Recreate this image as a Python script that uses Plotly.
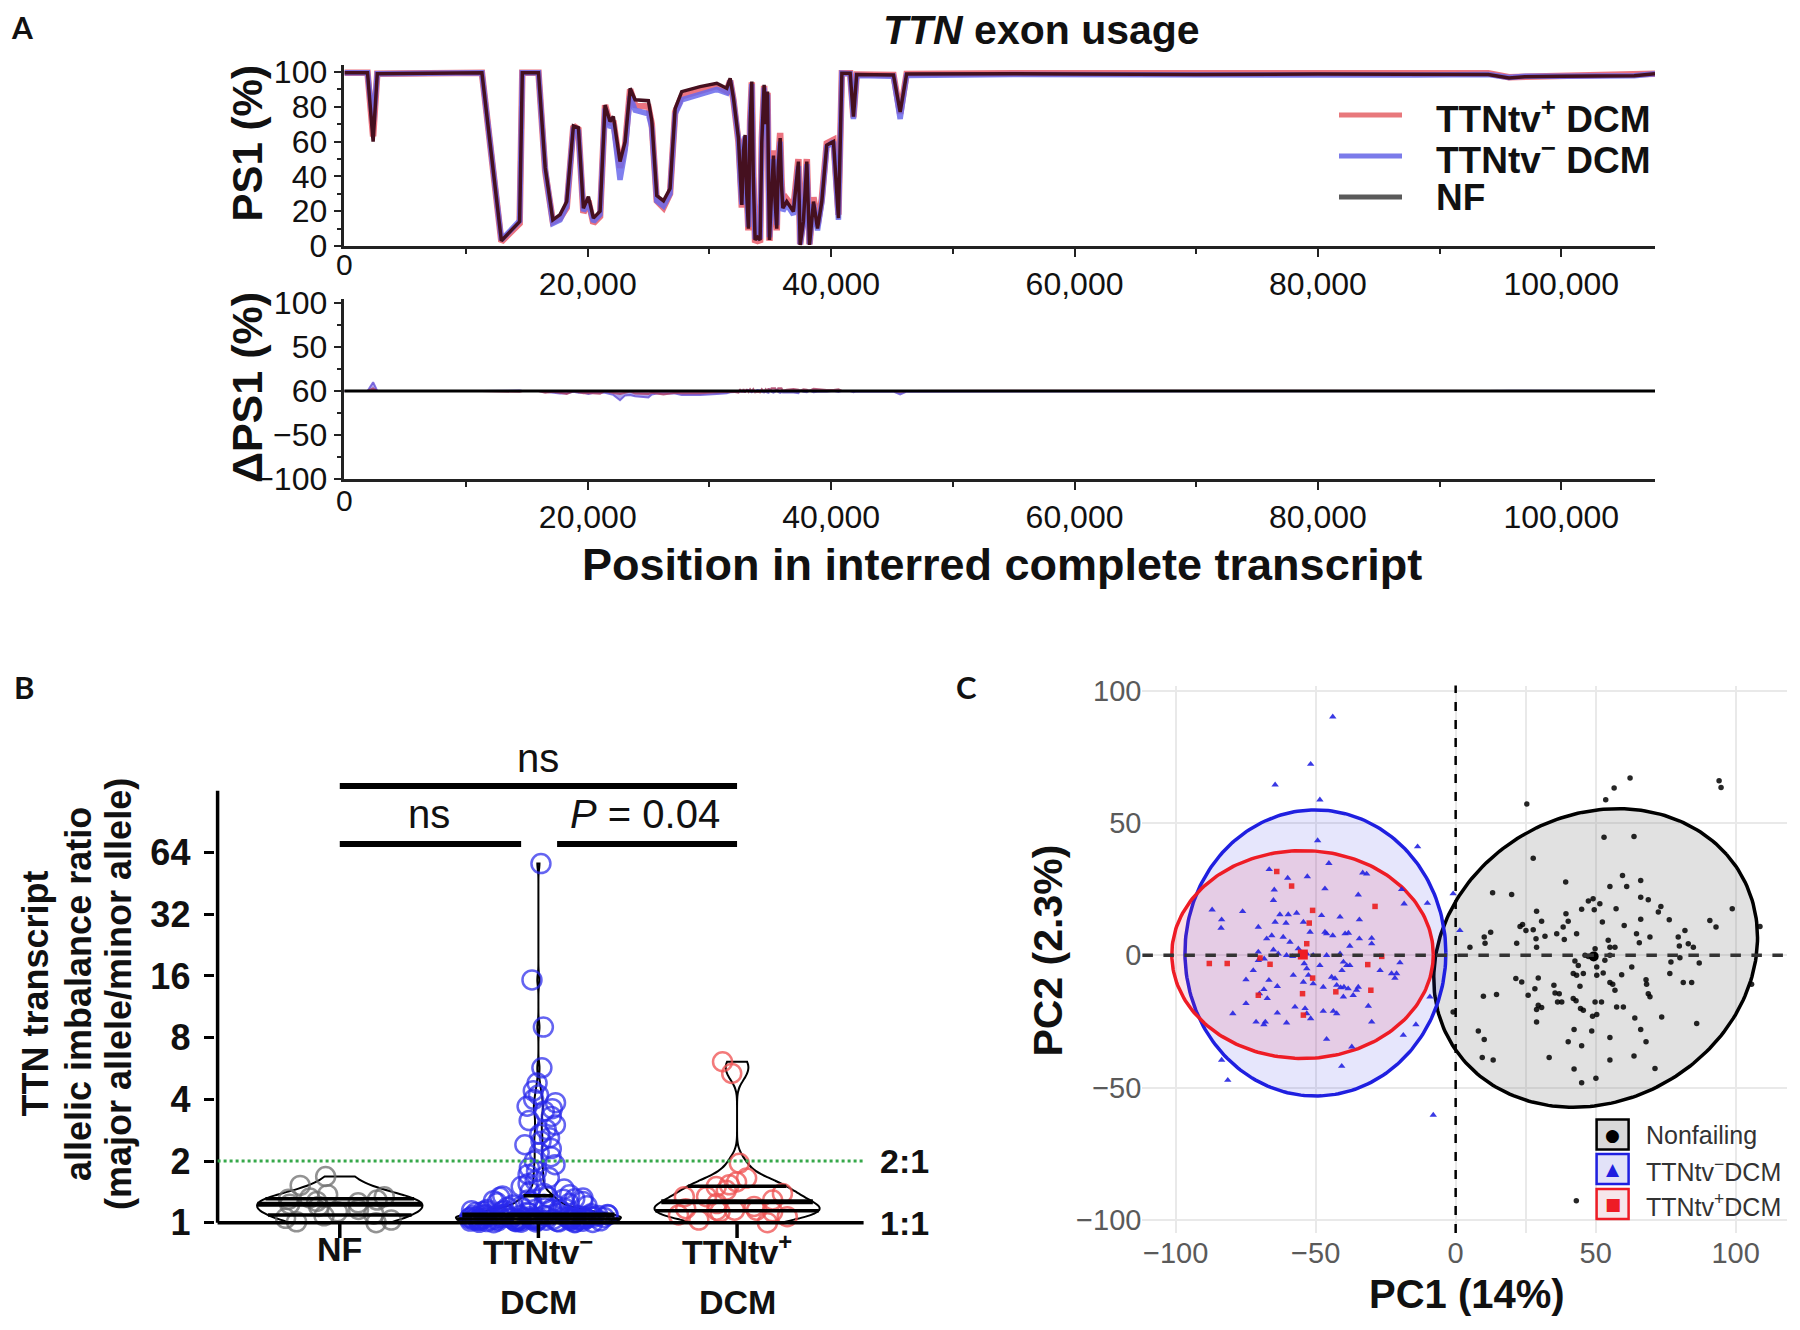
import numpy as np
import plotly.graph_objects as go

# The page body keeps an 8 px margin, so the figure is 16 px smaller than the window
# and every position below is given in window pixels, then shifted by that margin.
OFF = 8
W, H = 1800 - 2 * OFF, 1330 - 2 * OFF
FONT = "Liberation Sans, Arial, Helvetica, sans-serif"


def fx(p):
    return (p - OFF) / W


def fy(p):
    return 1 - (p - OFF) / H


# ---------------- Panel A : PS1 along the transcript ----------------
ps1_position = [0, 1900, 2360, 2700, 11300, 12900, 14400, 14620, 15950, 16500,
                17130, 17720, 18270, 18820, 19230, 19640, 20050, 20460, 21010, 21420,
                21830, 22100, 22650, 23070, 23480, 23890, 24980, 25260, 25670, 26220,
                26760, 27180, 27720, 29230, 30600, 31420, 31700, 31970, 32380, 32520,
                32660, 32800, 32930, 33060, 33200, 33340, 33480, 33600, 33750, 33950,
                34160, 34300, 34490, 34620, 34770, 34850, 34930, 35100, 35260, 35400,
                35530, 35650, 35810, 35920, 36030, 36350, 36900, 37310, 37450, 37720,
                38000, 38220, 38550, 38880, 39230, 39640, 40190, 40600, 40880, 41560,
                41830, 42100, 45120, 45670, 46200, 55000, 62000, 70000, 80000, 88000,
                92000, 94000, 95700, 97000, 100000, 106000, 107700]
ps1_nf = [99.5, 99.5, 60, 99, 99.5, 3, 14, 99.5, 99.5, 45,
          15, 18, 25.5, 69, 68, 21.7, 28.4, 16, 20, 81,
          71.5, 74.4, 48.5, 60, 90.6, 84, 83.5, 72, 29, 26,
          33, 79, 88.7, 91.6, 93.5, 90.6, 96.4, 85, 62, 40,
          23.6, 55, 63.8, 30, 10, 70, 94.5, 40, 3.5, 5,
          3.5, 60, 92.6, 70, 88.7, 40, 3.5, 30, 52, 25,
          10, 45, 62, 35, 21.7, 25.5, 19.8, 48.5, 0.6, 14,
          48.5, 0.6, 25.5, 10, 25.5, 58, 60, 16, 99.3, 99.3,
          74.4, 98.5, 98.3, 77, 98.8, 99, 98.8, 98.6, 98.8, 98.8,
          98.5, 98.5, 96.5, 97.2, 97.5, 97.8, 99]
ps1_ttntv_pos = [99.5, 99.5, 63, 99, 99.5, 2.5, 13, 99.5, 99.5, 43,
                 14, 16, 22, 69, 67, 19, 26, 13, 17, 81,
                 70, 72, 45, 58, 90, 81, 80, 70, 26, 22,
                 30, 77, 86, 89, 92, 89, 95, 84, 60, 42,
                 22, 57, 62, 32, 9, 72, 94, 42, 2, 4,
                 2, 62, 92, 72, 88, 43, 3, 33, 55, 28,
                 9, 48, 65, 38, 22, 27, 22, 50, 1, 16,
                 50, 1, 28, 12, 27, 59, 61, 18, 99.3, 99.3,
                 74, 98.5, 98.3, 76, 98.8, 99.2, 99, 99.3, 99.3, 99.3,
                 99, 99.2, 97, 97.2, 97.6, 98, 99]
ps1_ttntv_neg = [99.5, 99.5, 70, 99, 99.5, 3.5, 14.5, 99.5, 99.5, 44,
                 13, 15, 23, 68, 66, 20, 25, 14, 18, 79,
                 68, 70, 38, 55, 86, 78, 76, 68, 26, 23,
                 30, 76, 84, 87, 90, 88, 95, 84, 61, 39,
                 24, 54, 63, 31, 11, 69, 93, 39, 4, 6,
                 4, 59, 91, 69, 87, 38, 5, 29, 50, 24,
                 12, 44, 60, 34, 20, 24, 18, 46, 1, 13,
                 47, 1, 24, 9, 25, 57, 60, 15, 99.3, 99,
                 73, 98, 97.5, 73, 98, 98.5, 98.3, 98, 98.2, 98.3,
                 98.4, 98.5, 96.8, 97.5, 97.6, 97.8, 99]
a_xticks = [20000, 40000, 60000, 80000, 100000]
a_xticktext = ["20,000", "40,000", "60,000", "80,000", "100,000"]
a_xminor = [10000, 30000, 50000, 70000, 90000]
ps1_ticks = [0, 20, 40, 60, 80, 100]
dps1_ticks = [-100, -50, 0, 50, 100]
dps1_ticktext = ["\u2212100", "\u221250", "60", "50", "100"]

# ---------------- Panel B : allelic imbalance ratios ----------------
ratio_nf = [1.00, 1.01, 1.03, 1.05, 1.08, 1.10, 1.13, 1.16, 1.20, 1.23,
            1.25, 1.27, 1.29, 1.30, 1.32, 1.34, 1.37, 1.52, 1.68]
ratio_ttntv_neg = [56.5, 15.3, 9.0, 5.7, 4.8, 4.4, 4.2, 4.0, 3.85, 3.7,
                   3.6, 3.5, 3.3, 3.15, 3.0, 2.85, 2.7, 2.6, 2.5, 2.4,
                   2.3, 2.2, 2.1, 2.0, 1.92, 1.85, 1.78, 1.72, 1.66, 1.6,
                   1.55, 1.5, 1.46, 1.42, 1.39, 1.37,
                   1.35, 1.34, 1.33, 1.32, 1.31, 1.30, 1.29, 1.28, 1.27, 1.26,
                   1.25, 1.24, 1.23, 1.22, 1.21, 1.20, 1.19, 1.18, 1.17, 1.165,
                   1.16, 1.155, 1.15, 1.145, 1.14, 1.135, 1.13, 1.125, 1.12, 1.115,
                   1.11, 1.105, 1.10, 1.095, 1.09, 1.085,
                   1.000, 1.000, 1.002, 1.004, 1.005, 1.007, 1.008, 1.010, 1.011, 1.013,
                   1.014, 1.015, 1.017, 1.018, 1.020, 1.021, 1.022, 1.024, 1.025, 1.026,
                   1.027, 1.028, 1.029, 1.030, 1.031, 1.032, 1.033, 1.034, 1.035, 1.036,
                   1.037, 1.038, 1.039, 1.040, 1.041, 1.042, 1.043, 1.044, 1.045, 1.046,
                   1.047, 1.048, 1.049, 1.050, 1.051, 1.052, 1.053, 1.054, 1.055, 1.056,
                   1.057, 1.058, 1.060, 1.061, 1.062, 1.064, 1.065, 1.067, 1.069, 1.070,
                   1.072, 1.074, 1.076, 1.078, 1.079, 1.080, 1.081, 1.083, 1.084, 1.085,
                   1.090, 1.095]
ratio_ttntv_pos = [6.1, 5.35, 1.95, 1.65, 1.58, 1.53, 1.50, 1.44, 1.39, 1.34,
                   1.34, 1.29, 1.24, 1.20, 1.17, 1.15, 1.15, 1.15, 1.13, 1.13,
                   1.09, 1.07, 1.03, 1.00]
b_categories = [("NF", ""), ("TTNtv<sup>\u2212</sup>", "DCM"), ("TTNtv<sup>+</sup>", "DCM")]
b_tick_ratios = [1, 2, 4, 8, 16, 32, 64]

# ---------------- Panel C : PCA ----------------
pc_nf = [(62.3, 67.1), (94.1, 66.0), (94.8, 63.5), (56.6, 63.3), (25.4, 57.2), (53.6, 58.8), (53.0, 44.7), (63.7, 44.9),
         (27.7, 36.7), (39.3, 27.7), (59.6, 30.2), (66.1, 28.3), (13.2, 23.7), (20.0, 23.0), (55.1, 26.0), (61.1, 26.0),
         (66.1, 22.0), (68.8, 21.0), (47.4, 20.5), (49.1, 21.4), (45.0, 17.4), (28.9, 16.7), (39.4, 15.7), (49.5, 17.2),
         (51.5, 19.5), (57.3, 17.6), (73.3, 18.5), (72.4, 16.4), (76.3, 13.5), (66.1, 13.6), (90.8, 13.2), (93.0, 10.7),
         (98.8, 17.6), (108.7, 10.9), (23.9, 11.7), (23.0, 10.9), (27.7, 9.7), (30.7, 12.9), (25.1, 9.4), (38.4, 10.7),
         (40.2, 12.9), (43.2, 8.2), (36.1, 8.2), (31.9, 7.2), (28.7, 6.3), (28.9, 3.1), (10.2, 6.9), (10.5, 4.6),
         (12.5, 8.7), (21.8, 4.6), (38.8, 6.0), (52.4, 12.6), (60.2, 11.3), (64.6, 8.2), (65.6, 4.8), (69.4, 6.9),
         (79.5, 6.9), (79.9, 3.5), (81.9, 9.4), (83.1, 4.4), (84.9, 3.1), (54.5, 5.7), (55.1, 3.1), (56.9, 3.1),
         (49.8, 2.5), (5.1, 3.1), (42.6, -2.1), (43.8, -3.8), (50.4, -4.4), (53.3, -1.9), (62.9, -4.4), (76.9, -2.5),
         (87.0, -2.9), (80.1, -0.9), (55.1, 0.0), (49.8, -0.6), (47.4, -0.4), (46.2, 0.0), (42.0, -6.9), (43.2, -7.5),
         (45.6, -6.9), (50.4, -7.5), (52.7, -6.7), (59.3, -7.3), (76.5, -6.9), (21.5, -8.8), (23.6, -10.1), (29.5, -8.6),
         (28.3, -12.6), (25.9, -15.1), (35.1, -11.3), (35.5, -14.2), (37.0, -14.5), (44.4, -11.7), (55.1, -10.3), (56.1, -10.9),
         (56.9, -13.2), (68.0, -9.2), (68.2, -10.9), (68.8, -14.5), (69.4, -15.7), (81.3, -10.3), (84.3, -10.3), (14.6, -14.8),
         (9.9, -15.5), (36.4, -17.6), (37.9, -17.6), (42.0, -16.3), (43.0, -17.2), (44.6, -20.1), (45.6, -20.8), (49.8, -17.6),
         (52.1, -17.6), (48.9, -23.0), (50.4, -22.4), (29.5, -18.9), (30.7, -19.7), (28.9, -20.5), (28.9, -25.2), (57.5, -19.5),
         (59.9, -19.5), (64.0, -23.7), (73.6, -23.3), (86.1, -25.8), (66.1, -28.0), (48.6, -28.6), (42.3, -28.0), (8.1, -28.6),
         (10.2, -31.8), (9.5, -38.6), (13.4, -39.6), (40.2, -32.7), (45.0, -34.2), (55.1, -31.1), (68.0, -32.7), (33.4, -38.6),
         (55.1, -39.6), (63.7, -38.1), (42.3, -43.0), (71.2, -42.8), (45.0, -48.2), (50.1, -46.5), (105.7, -10.9), (-0.9, -21.4),
         (43.1, -92.8)]
pc_neg = [(-43.9, 90.2), (-51.8, 72.3), (-64.5, 64.5), (-48.5, 58.8), (-49.3, 43.4), (-13.6, 41.1), (-45.3, 34.8), (-66.6, 32.5),
          (-60.0, 29.2), (-53.0, 29.8), (-33.2, 31.2), (-31.8, 30.8), (-64.8, 24.8), (-46.7, 25.2), (-34.8, 22.9), (-19.3, 24.9),
          (-87.0, 17.2), (-76.1, 16.6), (-65.1, 20.8), (-62.8, 15.4), (-59.8, 15.4), (-56.8, 16.0), (-47.9, 15.1), (-41.3, 14.5),
          (-34.4, 13.5), (-18.4, 19.5), (-10.1, 19.7), (-0.9, 23.3), (-83.6, 13.5), (-83.8, 10.3), (-70.5, 10.7), (-64.5, 12.6),
          (-60.6, 12.2), (-54.4, 12.6), (-52.0, 8.8), (-46.7, 8.8), (-46.1, 8.2), (-43.9, 7.5), (-39.5, 8.2), (-38.3, 8.4),
          (-34.4, 6.3), (-30.0, 6.5), (-30.0, 4.4), (-67.5, 6.3), (-65.7, 7.5), (-61.6, 6.9), (-59.2, 5.0), (-37.8, 3.5),
          (-65.1, 2.1), (-63.4, 0.6), (-60.4, 0.0), (-58.2, -0.4), (-56.2, 2.5), (-53.2, 0.6), (-50.9, 0.0), (-46.1, 0.0),
          (-41.3, 0.6), (-70.5, 1.3), (-70.5, -1.9), (-68.4, -1.3), (-54.1, -3.1), (-48.5, -3.8), (-40.1, -2.5), (-38.9, -3.8),
          (-37.8, -3.8), (-19.9, -2.8), (-27.0, -5.7), (-22.9, -6.9), (-21.1, -6.9), (-21.7, -8.6), (-40.6, -5.7), (-44.3, -8.2),
          (-43.1, -8.8), (-74.9, -9.2), (-72.3, -5.7), (-66.7, -9.4), (-58.0, -7.5), (-53.2, -5.0), (-52.6, -7.5), (-54.4, -10.1),
          (-50.9, -10.7), (-47.3, -12.0), (-42.5, -11.3), (-41.1, -12.2), (-39.9, -12.0), (-38.4, -12.6), (-34.8, -12.0), (-40.1, -15.7),
          (-36.6, -15.1), (-35.4, -13.2), (-68.5, -12.9), (-63.7, -11.7), (-67.3, -16.3), (-74.9, -18.2), (-70.1, -14.5), (-57.4, -19.5),
          (-53.8, -20.1), (-53.2, -22.0), (-47.3, -21.1), (-43.7, -21.1), (-42.5, -22.0), (-31.2, -19.2), (-79.6, -22.0), (-63.7, -21.8),
          (-60.4, -25.5), (-51.8, -23.9), (-71.3, -25.2), (-68.5, -26.2), (-68.0, -25.2), (-30.0, -25.2), (-18.7, -30.2), (-14.2, -26.2),
          (-46.1, -31.7), (-37.1, -34.6), (-83.6, -39.6), (-40.7, -41.9), (-81.4, -47.2), (-8.0, -60.4), (-9.2, -15.7), (1.5, 9.4)]
pc_pos = [(-63.9, 31.7), (-58.6, 26.2), (-51.1, 17.0), (-52.3, 12.2), (-28.8, 18.5), (-53.2, 4.4), (-88.0, -3.1), (-81.6, -3.1),
          (-66.3, -3.4), (-69.9, -1.0), (-26.4, -0.4), (-31.4, -3.5), (-51.1, -8.6), (-70.5, -15.1), (-54.7, -14.5), (-42.8, -13.8),
          (-30.3, -13.2), (-54.4, -22.6)]
centroid_nf = (49.3, -0.4)
centroid_pos = (-54.6, 0.3)
# confidence ellipses: centre x, centre y, semi-axis a, semi-axis b, angle (deg)
ellipse_nf = (50.0, -1.0, 61.0, 53.0, 40.0)
ellipse_neg = (-50.1, 0.9, 46.6, 54.1, 0.0)
ellipse_pos = (-54.7, 0.3, 46.7, 39.3, 0.0)
c_ticks = [-100, -50, 0, 50, 100]
c_ticktext = ["\u2212100", "\u221250", "0", "50", "100"]

# =====================================================================
fig = go.Figure()

# ---- Panel A top
a_x_dom = [fx(344.4), fx(1655)]
for ys, col, wd in [(ps1_ttntv_pos, "rgba(232,90,105,0.85)", 6.5),
                    (ps1_ttntv_neg, "rgba(105,105,235,0.85)", 5.5),
                    (ps1_nf, "#45101f", 3.5)]:
    fig.add_trace(go.Scatter(x=ps1_position, y=ys, mode="lines", line=dict(color=col, width=wd),
                             xaxis="x", yaxis="y", showlegend=False, hoverinfo="skip"))

# ---- Panel A bottom (ΔPS1 relative to NF)
nf_arr = np.array(ps1_nf)
d_neg = np.array(ps1_ttntv_neg) - nf_arr
d_pos = np.array(ps1_ttntv_pos) - nf_arr
fig.add_trace(go.Scatter(x=ps1_position, y=d_neg, mode="lines", fill="tozeroy",
                         line=dict(color="rgba(100,80,215,0.8)", width=2),
                         fillcolor="rgba(110,90,220,0.55)", xaxis="x2", yaxis="y2",
                         showlegend=False, hoverinfo="skip"))
fig.add_trace(go.Scatter(x=ps1_position, y=d_pos, mode="lines", fill="tozeroy",
                         line=dict(color="rgba(170,60,100,0.8)", width=2),
                         fillcolor="rgba(190,70,110,0.45)", xaxis="x2", yaxis="y2",
                         showlegend=False, hoverinfo="skip"))

# ---- Panel B violins
B_WIDTH = 0.83
violin_specs = [(ratio_nf, 0, "rgba(110,110,110,0.75)", 0.15),
                (ratio_ttntv_neg, 1, "rgba(40,40,235,0.72)", 0.09),
                (ratio_ttntv_pos, 2, "rgba(240,85,85,0.78)", 0.15)]


def quartile_widths(vals, bw, width):
    v = np.asarray(vals, float)
    lo, hi = v.min(), v.max()
    dist = hi - lo
    n = int(np.ceil(dist / (bw / 3.0)))
    step = dist / n
    t = lo + step * np.arange(n + 1)

    def kde(tt):
        tt = np.atleast_1d(tt)
        return np.exp(-0.5 * ((tt[:, None] - v[None, :]) / bw) ** 2).sum(axis=1)

    mx = kde(t).max()
    q = np.percentile(v, [25, 50, 75])
    return q, width / 2.0 * kde(q) / mx


for vals, pos, col, bw in violin_specs:
    lv = np.log2(np.array(vals, float))
    fig.add_trace(go.Violin(x0=pos, y=lv, xaxis="x3", yaxis="y3", width=B_WIDTH,
                            spanmode="hard", bandwidth=bw, points="all", pointpos=0,
                            jitter=0.85, scalemode="width",
                            marker=dict(symbol="circle-open", size=19, color=col,
                                        line=dict(width=2.5, color=col)),
                            line=dict(color="black", width=2),
                            fillcolor="rgba(0,0,0,0)", showlegend=False,
                            box=dict(visible=False), meanline=dict(visible=False),
                            hoverinfo="skip"))
    q, hw = quartile_widths(lv, bw, B_WIDTH)
    for k in range(3):
        fig.add_trace(go.Scatter(x=[pos - hw[k], pos + hw[k]], y=[q[k], q[k]], mode="lines",
                                 line=dict(color="black", width=5 if k == 1 else 3.5),
                                 xaxis="x3", yaxis="y3", showlegend=False, hoverinfo="skip"))


# ---- Panel C ellipses + points
def ellipse_xy(params):
    cx, cy, a, b, ang = params
    t = np.linspace(0, 2 * np.pi, 240)
    th = np.deg2rad(ang)
    x = cx + a * np.cos(th) * np.cos(t) - b * np.sin(th) * np.sin(t)
    y = cy + a * np.sin(th) * np.cos(t) + b * np.cos(th) * np.sin(t)
    return x, y


for params, lc, fc in [(ellipse_nf, "black", "rgba(120,120,120,0.22)"),
                       (ellipse_neg, "#1f1fe0", "rgba(60,60,230,0.13)"),
                       (ellipse_pos, "#ee1c25", "rgba(230,50,90,0.14)")]:
    ex, ey = ellipse_xy(params)
    fig.add_trace(go.Scatter(x=ex, y=ey, mode="lines", fill="toself", fillcolor=fc,
                             line=dict(color=lc, width=3.5), xaxis="x4", yaxis="y4",
                             showlegend=False, hoverinfo="skip"))

fig.add_trace(go.Scatter(x=[p[0] for p in pc_nf], y=[p[1] for p in pc_nf], mode="markers",
                         marker=dict(symbol="circle", size=5.5, color="rgba(0,0,0,0.85)"),
                         xaxis="x4", yaxis="y4", showlegend=False, hoverinfo="skip"))
fig.add_trace(go.Scatter(x=[p[0] for p in pc_neg], y=[p[1] for p in pc_neg], mode="markers",
                         marker=dict(symbol="triangle-up", size=6.5, color="rgba(35,35,225,0.9)"),
                         xaxis="x4", yaxis="y4", showlegend=False, hoverinfo="skip"))
fig.add_trace(go.Scatter(x=[p[0] for p in pc_pos], y=[p[1] for p in pc_pos], mode="markers",
                         marker=dict(symbol="square", size=5.5, color="rgba(235,30,30,0.9)"),
                         xaxis="x4", yaxis="y4", showlegend=False, hoverinfo="skip"))
fig.add_trace(go.Scatter(x=[centroid_nf[0]], y=[centroid_nf[1]], mode="markers",
                         marker=dict(symbol="circle", size=10, color="black"),
                         xaxis="x4", yaxis="y4", showlegend=False, hoverinfo="skip"))
fig.add_trace(go.Scatter(x=[centroid_pos[0]], y=[centroid_pos[1]], mode="markers",
                         marker=dict(symbol="square", size=10, color="#ee1c25"),
                         xaxis="x4", yaxis="y4", showlegend=False, hoverinfo="skip"))

# =====================================================================
tick_font = dict(family=FONT, size=32, color="#111")
axis_common = dict(showgrid=False, zeroline=False, showline=True, linecolor="#222",
                   linewidth=2.5, ticks="outside", tickcolor="#222", tickwidth=2,
                   automargin=False)

b_x_range = [-0.63, 2.65]
b_y_range = [-0.3, 7.9]
c_x_range = [-111.9, 118.5]
c_y_range = [-105, 102]

fig.update_layout(
    width=W, height=H, margin=dict(l=0, r=0, t=0, b=0, pad=0, autoexpand=False),
    paper_bgcolor="white", plot_bgcolor="white", showlegend=False,
    font=dict(family=FONT, color="#111"),
    violinmode="overlay",
    xaxis=dict(domain=a_x_dom, range=[0, 107700], anchor="y", tickvals=a_xticks,
               ticktext=a_xticktext, ticklen=8, tickfont=tick_font, ticklabelstandoff=0,
               minor=dict(tickvals=a_xminor, ticks="outside", ticklen=5, tickwidth=2,
                          tickcolor="#222"), **axis_common),
    yaxis=dict(domain=[fy(246), fy(65)], range=[0, 104], anchor="x", tickvals=ps1_ticks,
               ticklen=8, tickfont=tick_font,
               minor=dict(tickvals=[10, 30, 50, 70, 90], ticks="outside", ticklen=5,
                          tickwidth=2, tickcolor="#222"), **axis_common),
    xaxis2=dict(domain=a_x_dom, range=[0, 107700], anchor="y2", tickvals=a_xticks,
                ticktext=a_xticktext, ticklen=8, tickfont=tick_font, ticklabelstandoff=0,
                minor=dict(tickvals=a_xminor, ticks="outside", ticklen=5, tickwidth=2,
                           tickcolor="#222"), **axis_common),
    yaxis2=dict(domain=[fy(479), fy(299)], range=[-100, 104.5], anchor="x2",
                tickvals=dps1_ticks, ticktext=dps1_ticktext, ticklen=8, tickfont=tick_font,
                minor=dict(tickvals=[-75, -25, 25, 75], ticks="outside", ticklen=5,
                           tickwidth=2, tickcolor="#222"), **axis_common),
    xaxis3=dict(domain=[fx(217.6 - 0.015 * 198.6), fx(863.6 + 0.013 * 198.6)], range=b_x_range,
                anchor="y3", tickvals=[0, 1, 2], showticklabels=False, ticks="",
                showline=False, showgrid=False, zeroline=False, automargin=False),
    yaxis3=dict(domain=[fy(1241.2), fy(735.3)], range=b_y_range, anchor="x3",
                tickvals=[0, 1, 2, 3, 4, 5, 6], ticktext=[str(r) for r in b_tick_ratios],
                ticks="outside", ticklen=10, tickwidth=3, tickcolor="black",
                showline=False, showgrid=False, zeroline=False, ticklabelstandoff=6,
                automargin=False,
                tickfont=dict(family=FONT, size=36, color="#111", weight="bold")),
    xaxis4=dict(domain=[fx(1142.4), fx(1787.4)], range=c_x_range, anchor="y4",
                tickvals=c_ticks, ticktext=c_ticktext, ticks="", showline=False,
                showgrid=True, gridcolor="#e9e9e9", gridwidth=2, zeroline=False,
                automargin=False,
                minor=dict(tickvals=[25], showgrid=True, gridcolor="#e9e9e9", gridwidth=2),
                tickfont=dict(family=FONT, size=29, color="#5a5a5a")),
    yaxis4=dict(domain=[fy(1233), fy(685.6)], range=c_y_range, anchor="x4",
                tickvals=c_ticks, ticktext=c_ticktext, ticks="", showline=False,
                showgrid=True, gridcolor="#e9e9e9", gridwidth=2, zeroline=False,
                automargin=False,
                tickfont=dict(family=FONT, size=29, color="#5a5a5a")),
)

shapes = []
# A bottom zero line
shapes.append(dict(type="line", xref="x2 domain", yref="y2", x0=0, x1=1, y0=0, y1=0,
                   line=dict(color="black", width=3)))
# A legend lines
legend_a_y = [115, 156, 197]
for yy, col in zip(legend_a_y, ["#e8787c", "#7b7bea", "#5a5a5a"]):
    shapes.append(dict(type="line", xref="paper", yref="paper", x0=fx(1339), x1=fx(1402),
                       y0=fy(yy), y1=fy(yy), line=dict(color=col, width=5)))
# B axes lines, ticks, reference line, brackets
shapes.append(dict(type="line", xref="x3", yref="y3", x0=-0.615, x1=-0.615, y0=0, y1=7.0,
                   line=dict(color="black", width=3.5)))
shapes.append(dict(type="line", xref="x3", yref="y3", x0=-0.615, x1=2.637, y0=0, y1=0,
                   line=dict(color="black", width=3.5)))
for pos in [0, 1, 2]:
    shapes.append(dict(type="line", xref="x3", yref="y3", x0=pos, x1=pos, y0=0, y1=-0.25,
                       line=dict(color="black", width=3.5)))
shapes.append(dict(type="line", xref="x3", yref="y3", x0=-0.615, x1=2.637, y0=1, y1=1,
                   line=dict(color="#36a84a", width=3, dash="dot")))
for x0, x1, yy in [(0, 2, 7.08), (0, 0.913, 6.14), (1.094, 2, 6.14)]:
    shapes.append(dict(type="line", xref="x3", yref="y3", x0=x0, x1=x1, y0=yy, y1=yy,
                       line=dict(color="black", width=6)))
# C dashed reference lines
shapes.append(dict(type="line", xref="x4", yref="y4 domain", x0=0, x1=0, y0=0, y1=1,
                   line=dict(color="black", width=2.5, dash="dash")))
shapes.append(dict(type="line", xref="x4 domain", yref="y4", x0=0, x1=1, y0=0, y1=0,
                   line=dict(color="#333", width=3.5, dash="dash")))
# C legend key boxes
for (y0, y1), lc, fc in [((1119.6, 1149.5), "black", "#d9d9d9"),
                         ((1154, 1184), "#1f1fe0", "#e2e2f8"),
                         ((1189, 1219), "#ee1c25", "#f6e6ea")]:
    shapes.append(dict(type="rect", xref="paper", yref="paper", x0=fx(1596.6), x1=fx(1628.6),
                       y0=fy(y1), y1=fy(y0), line=dict(color=lc, width=2.5), fillcolor=fc))

ann = []


def txt(x, y, text, size, bold=False, xanchor="center", yanchor="middle", angle=0,
        color="#111", xref="paper", yref="paper", family=FONT):
    ann.append(dict(x=x, y=y, xref=xref, yref=yref, text=text, showarrow=False,
                    xanchor=xanchor, yanchor=yanchor, textangle=angle,
                    font=dict(family=family, size=size, color=color,
                              weight="bold" if bold else "normal")))


# panel letters
txt(fx(22), fy(27), "A", 30, bold=True, family="Lato, Open Sans, sans-serif")
txt(fx(24), fy(687), "B", 31, bold=True, family="Lato, Open Sans, sans-serif")
txt(fx(966), fy(687), "C", 31, bold=True, family="Lato, Open Sans, sans-serif")
# panel A texts
txt(fx(1041), fy(30), "<i>TTN</i> exon usage", 41, bold=True)
txt(fx(247), fy(143.5), "PS1 (%)", 42, bold=True, angle=-90)
txt(fx(247), fy(388), "\u0394PS1 (%)", 43, bold=True, angle=-90)
txt(fx(1002), fy(564), "Position in interred complete transcript", 45, bold=True)
txt(0, fy(264), "0", 30, xref="x")
txt(0, fy(500), "0", 30, xref="x2")
for yy, lab in zip(legend_a_y, ["TTNtv<sup>+</sup> DCM", "TTNtv<sup>\u2212</sup> DCM", "NF"]):
    txt(fx(1434), fy(yy + 1), lab, 37, bold=True, xanchor="left")
# panel B texts
for xx, line in [(34.5, "TTN transcript"), (78, "allelic imbalance ratio"),
                 (118, "(major allele/minor allele)")]:
    txt(fx(xx), fy(994), line, 36, bold=True, angle=-90)
for pos, (l1, l2) in enumerate(b_categories):
    txt(pos, fy(1249), l1, 34, bold=True, xref="x3")
    if l2:
        txt(pos, fy(1302), l2, 34, bold=True, xref="x3")
txt(1, 7.54, "ns", 40, xref="x3", yref="y3")
txt(0.45, 6.63, "ns", 40, xref="x3", yref="y3")
txt(1.537, 6.63, "<i>P</i> = 0.04", 40, xref="x3", yref="y3")
txt(fx(878), 1, "2:1", 34, bold=True, xanchor="left", yref="y3")
txt(fx(878), 0, "1:1", 34, bold=True, xanchor="left", yref="y3")
# panel C texts
txt(fx(1467), fy(1294), "PC1 (14%)", 40, bold=True)
txt(fx(1047.6), fy(951), "PC2 (2.3%)", 41, bold=True, angle=-90)
for yy, glyph, col in [(1134.5, "\u25cf", "black"), (1169, "\u25b2", "#1f1fe0"), (1204, "\u25a0", "#ee1c25")]:
    txt(fx(1612.6), fy(yy), glyph, 17, color=col, family="DejaVu Sans")
for yy, lab in [(1134.5, "Nonfailing"), (1170, "TTNtv<sup>\u2212</sup>DCM"), (1205, "TTNtv<sup>+</sup>DCM")]:
    txt(fx(1643.8), fy(yy), lab, 25, xanchor="left", color="#333")

fig.update_layout(shapes=shapes, annotations=ann)
fig.write_html("out.html")
